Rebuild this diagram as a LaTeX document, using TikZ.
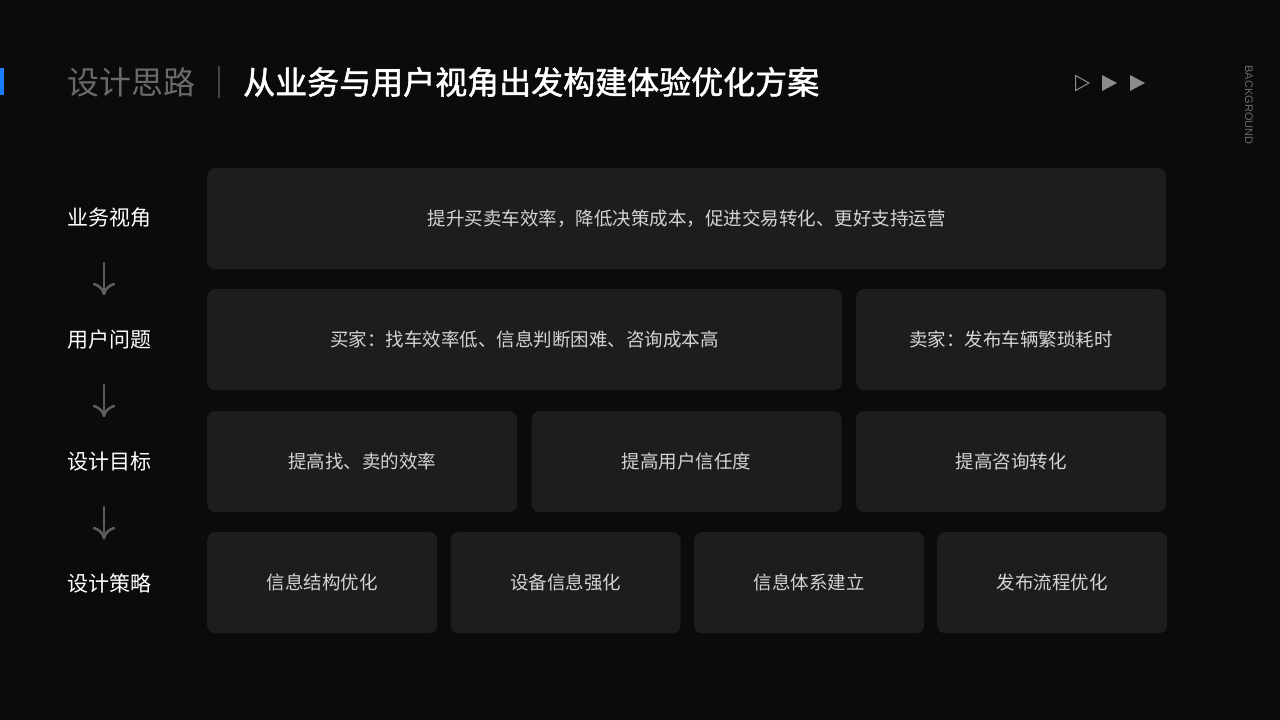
\documentclass[tikz,border=0pt]{standalone}
\usepackage{fontspec}
\setmainfont{Noto Sans CJK SC}
\newfontfamily\titlefont{Noto Sans CJK SC}[FakeBold=1.6]
\newfontfamily\latinsans{Liberation Sans}
\definecolor{bgc}{HTML}{0B0B0B}
\definecolor{boxc}{HTML}{1D1D1D}
\definecolor{boxtxt}{HTML}{D4D4D4}
\definecolor{titlegray}{HTML}{6A6A6A}
\definecolor{sepc}{HTML}{454545}
\definecolor{arrc}{HTML}{5C5C5C}
\definecolor{trig}{HTML}{8C8C8C}
\definecolor{accent}{HTML}{1A7DFF}
\tikzset{
  card/.style={fill=boxc, rounded corners=8pt, draw=none, inner sep=0pt, anchor=north west},
  cardtext/.style={text=boxtxt, font=\fontsize{18.5}{20}\selectfont, inner sep=0pt},
  lab/.style={anchor=west, inner sep=0pt, text=white, font=\fontsize{21}{23}\selectfont},
  flow/.style={draw=arrc, line width=2.6pt, line cap=round, line join=round},
}
\begin{document}
\begin{tikzpicture}[x=1pt,y=-1pt]
\fill[bgc] (0,0) rectangle (1280,720);
\useasboundingbox (0,0) rectangle (1280,720);
% header
\fill[accent] (0,68) rectangle (4,95);
\node[anchor=west, inner sep=0pt, text=titlegray, font=\fontsize{32}{34}\selectfont] (t1) at (67,82) {设计思路};
\coordinate (s1) at (219,66);
\coordinate (s2) at (219,98);
\draw[sepc, line width=1.2pt] (s1) -- (s2);
\node[anchor=west, inner sep=0pt, text=white, font=\titlefont\fontsize{32}{34}\selectfont] (t2) at (243,82) {从业务与用户视角出发构建体验优化方案};
% triangles
\draw[trig, line width=1pt, line join=miter] (1075.5,75.5) -- (1089,83) -- (1075.5,90.5) -- cycle;
\fill[trig] (1102,75) -- (1117,83) -- (1102,91) -- cycle;
\fill[trig] (1130,75) -- (1145,83) -- (1130,91) -- cycle;
\node[rotate=-90, inner sep=0pt, text=titlegray, font=\latinsans\fontsize{11}{12}\selectfont] (bg) at (1249,105) {BACKGROUND};
% left labels
\node[lab] (l1) at (67,218) {业务视角};
\node[lab] (l2) at (67,340) {用户问题};
\node[lab] (l3) at (67,462) {设计目标};
\node[lab] (l4) at (67,584) {设计策略};
\foreach \i/\y in {1/263,2/385,3/507}{
  \coordinate (a\i s) at (104,\y);
  \coordinate (a\i e) at (104,\y+31);
  \draw[flow] (a\i s) -- (a\i e);
  \draw[flow] (a\i e) ++(-10,-10) .. controls +(5,1.5) and +(-1,-5) .. (a\i e);
  \draw[flow] (a\i e) ++(10,-10) .. controls +(-5,1.5) and +(1,-5) .. (a\i e);
}
% row 1
\node[card, minimum width=959pt, minimum height=101pt] (r1) at (207,168) {};
\node[cardtext] at (r1.center) {提升买卖车效率，降低决策成本，促进交易转化、更好支持运营};
% row 2
\node[card, minimum width=635pt, minimum height=101pt] (r2a) at (207,289) {};
\node[cardtext] at (r2a.center) {买家：找车效率低、信息判断困难、咨询成本高};
\node[card, minimum width=310pt, minimum height=101pt] (r2b) at (856,289) {};
\node[cardtext] at (r2b.center) {卖家：发布车辆繁琐耗时};
% row 3
\node[card, minimum width=310pt, minimum height=101pt] (r3a) at (207,411) {};
\node[cardtext] at (r3a.center) {提高找、卖的效率};
\node[card, minimum width=310pt, minimum height=101pt] (r3b) at (531.5,411) {};
\node[cardtext] at (r3b.center) {提高用户信任度};
\node[card, minimum width=310pt, minimum height=101pt] (r3c) at (856,411) {};
\node[cardtext] at (r3c.center) {提高咨询转化};
% row 4
\node[card, minimum width=230pt, minimum height=101pt] (r4a) at (207,532) {};
\node[cardtext] at (r4a.center) {信息结构优化};
\node[card, minimum width=230pt, minimum height=101pt] (r4b) at (450.5,532) {};
\node[cardtext] at (r4b.center) {设备信息强化};
\node[card, minimum width=230pt, minimum height=101pt] (r4c) at (694,532) {};
\node[cardtext] at (r4c.center) {信息体系建立};
\node[card, minimum width=230pt, minimum height=101pt] (r4d) at (937,532) {};
\node[cardtext] at (r4d.center) {发布流程优化};
\end{tikzpicture}
\end{document}
